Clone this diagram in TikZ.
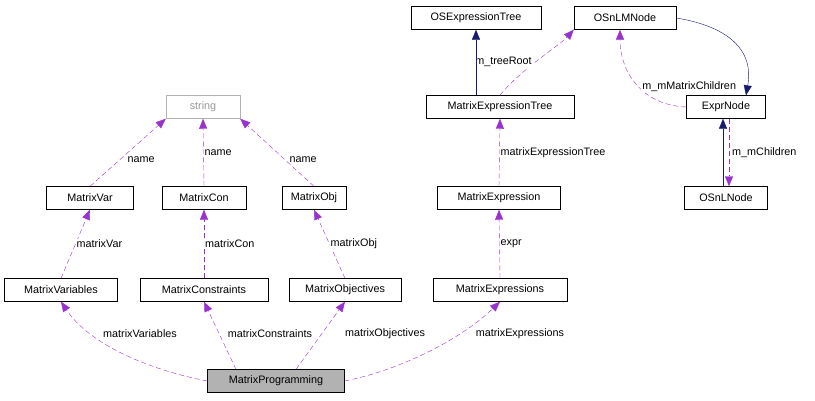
\documentclass[tikz,border=0pt]{standalone}
\usepackage{fontspec}
\setmainfont{Liberation Sans}
\usetikzlibrary{arrows.meta,calc}
\definecolor{usecol}{HTML}{9A32CD}
\definecolor{inhcol}{HTML}{191970}
\tikzset{
  cls/.style={draw, fill=white, inner sep=0pt, minimum height=23pt, font=\fontsize{10.8}{12}\selectfont},
  use/.style={-{Triangle[length=10pt,width=8pt]}, usecol, dashed, dash pattern=on 5pt off 3pt},
  inh/.style={-{Triangle[length=10pt,width=8pt]}, inhcol},
  lbl/.style={font=\fontsize{10.8}{12}\selectfont, text=black, fill=white, inner sep=1pt}
}
\begin{document}
\begin{tikzpicture}[x=1pt,y=-1pt]
  \useasboundingbox (0,0) rectangle (815,400);
  \node[cls, fill=black!30, minimum width=137pt] (mp) at (276,381) {MatrixProgramming};
  \node[cls, minimum width=113pt] (mvs) at (61,290) {MatrixVariables};
  \node[cls, minimum width=128pt] (mcs) at (204,290) {MatrixConstraints};
  \node[cls, minimum width=112pt] (mos) at (345,290) {MatrixObjectives};
  \node[cls, minimum width=134pt] (mes) at (500,290) {MatrixExpressions};
  \node[cls, minimum width=87pt] (mv) at (90,198) {MatrixVar};
  \node[cls, minimum width=84pt] (mc) at (204,198) {MatrixCon};
  \node[cls, minimum width=64pt] (mo) at (314,198) {MatrixObj};
  \node[cls, minimum width=123pt] (me) at (499,198) {MatrixExpression};
  \node[cls, minimum width=74pt, draw=black!30, text=black!40] (str) at (203,107) {string};
  \node[cls, minimum width=148pt] (met) at (500,107) {MatrixExpressionTree};
  \node[cls, minimum width=130pt] (oet) at (476,18) {OSExpressionTree};
  \node[cls, minimum width=102pt] (lm) at (625,18) {OSnLMNode};
  \node[cls, minimum width=79pt] (en) at (726,107) {ExprNode};
  \node[cls, minimum width=83pt] (nl) at (726,198) {OSnLNode};
  % uses
  \draw[use] (mp.west) .. controls (150,370) and (90,345) .. (mvs.south);
  \node[lbl] at (140,334) {matrixVariables};
  \draw[use] ($(mp.north)+(-40,0)$) -- (mcs.south);
  \node[lbl] at (270,334) {matrixConstraints};
  \draw[use] ($(mp.north)+(20,0)$) -- (mos.south);
  \node[lbl] at (385,334) {matrixObjectives};
  \draw[use] (mp.east) .. controls (400,370) and (460,340) .. (mes.south);
  \node[lbl] at (520,334) {matrixExpressions};
  \draw[use] (mvs.north) -- (mv.south) node[lbl, midway, right] {matrixVar};
  \draw[use] (mcs.north) -- (mc.south) node[lbl, midway, right] {matrixCon};
  \draw[use] (mos.north) -- (mo.south) node[lbl, midway, right] {matrixObj};
  \draw[use] (mes.north) -- (me.south) node[lbl, midway, right] {expr};
  \draw[use] (mv.north) -- (str.south west) node[lbl, pos=0.4, right=6pt] {name};
  \draw[use] (mc.north) -- (str.south) node[lbl, midway, right] {name};
  \draw[use] (mo.north) -- (str.south east) node[lbl, pos=0.4, right=4pt] {name};
  \draw[use] (me.north) -- (met.south) node[lbl, midway, right] {matrixExpressionTree};
  \draw[use] (met.north) .. controls (520,70) and (560,45) .. (lm.south west)
    node[lbl, pos=0.45, left=2pt] {m\_treeRoot};
  \draw[use] (en.west) .. controls (640,105) and (620,70) .. ($(lm.south)+(-5,0)$)
    node[lbl, pos=0.45, right=2pt] {m\_mMatrixChildren};
  \draw[use] ($(en.south)+(3,0)$) -- ($(nl.north)+(3,0)$)
    node[lbl, midway, right=2pt] {m\_mChildren};
  % inheritance
  \draw[inh] ($(met.north)+(-24,0)$) -- (oet.south);
  \draw[inh] (lm.east) .. controls (720,25) and (755,45) .. ($(en.north)+(20,0)$);
  \draw[inh] ($(nl.north)+(-3,0)$) -- ($(en.south)+(-3,0)$);
\end{tikzpicture}
\end{document}
